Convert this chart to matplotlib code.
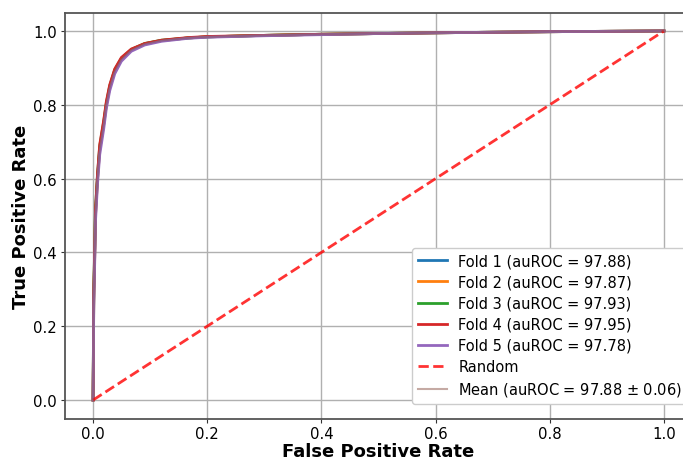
import numpy as np
import matplotlib
matplotlib.use("Agg")
import matplotlib.pyplot as plt

fpr = [0.0, 0.0005, 0.0012, 0.003, 0.0042, 0.0078, 0.0117, 0.0187, 0.0233, 0.0292,
       0.038, 0.0496, 0.067, 0.0905, 0.12, 0.166, 0.2, 0.3, 0.4, 0.5, 0.6, 0.8, 1.0]
tpr_fold1 = [0.0, 0.093, 0.274, 0.400, 0.500, 0.600, 0.680, 0.748, 0.800, 0.847,
             0.892, 0.924, 0.949, 0.965, 0.974, 0.981, 0.984, 0.988, 0.991, 0.993, 0.995, 0.998, 1.0]
tpr_fold2 = [0.0, 0.090, 0.268, 0.395, 0.497, 0.598, 0.678, 0.746, 0.799, 0.846,
             0.891, 0.923, 0.949, 0.965, 0.974, 0.981, 0.984, 0.988, 0.991, 0.993, 0.995, 0.998, 1.0]
tpr_fold3 = [0.0, 0.110, 0.300, 0.420, 0.515, 0.610, 0.688, 0.754, 0.805, 0.851,
             0.895, 0.926, 0.950, 0.966, 0.975, 0.981, 0.984, 0.988, 0.991, 0.993, 0.995, 0.998, 1.0]
tpr_fold4 = [0.0, 0.100, 0.290, 0.415, 0.512, 0.612, 0.692, 0.758, 0.809, 0.854,
             0.897, 0.928, 0.951, 0.966, 0.975, 0.982, 0.985, 0.988, 0.991, 0.993, 0.995, 0.998, 1.0]
tpr_fold5 = [0.0, 0.080, 0.255, 0.380, 0.482, 0.585, 0.665, 0.735, 0.790, 0.838,
             0.884, 0.918, 0.945, 0.962, 0.972, 0.980, 0.983, 0.987, 0.990, 0.993, 0.995, 0.998, 1.0]
fold_tprs = [tpr_fold1, tpr_fold2, tpr_fold3, tpr_fold4, tpr_fold5]
fold_auc = [97.88, 97.87, 97.93, 97.95, 97.78]
fold_colors = ["#1f77b4", "#ff7f0e", "#2ca02c", "#d62728", "#9467bd"]
mean_auc = 97.88
std_auc = 0.06

fig = plt.figure(figsize=(6.83, 4.6), dpi=100)
W, H = 683, 460
ax = fig.add_axes([64.5 / W, 1 - 419.5 / H, 628 / W, 406 / H])

for i, (t, c) in enumerate(zip(fold_tprs, fold_colors)):
    ax.plot(fpr, t, color=c, lw=2, label=f"Fold {i+1} (auROC = {fold_auc[i]:.2f})")
ax.plot([0, 1], [0, 1], "--", color="red", alpha=0.8, lw=2, label="Random")
mean_tpr = np.mean(np.array(fold_tprs), axis=0)
ax.plot(fpr, mean_tpr, color="#8c564b", alpha=0.5, lw=1.5,
        label=f"Mean (auROC = {mean_auc:.2f} $\\pm$ {std_auc:.2f})")

ax.set_xlim(-0.05, 1.05)
ax.set_ylim(-0.05, 1.05)
ax.grid(True, color="#b0b0b0", lw=1)
for s in ax.spines.values():
    s.set_color("#555555")
    s.set_linewidth(1.3)
ax.tick_params(labelsize=10.7, color="#333333", length=3, pad=2.5)
ax.set_xlabel("False Positive Rate", fontsize=13, fontweight="bold")
ax.set_ylabel("True Positive Rate", fontsize=13, fontweight="bold")
ax.xaxis.set_label_coords(0.5, -0.079)
ax.xaxis.label.set_verticalalignment("center")
ax.yaxis.set_label_coords(-0.0685, 0.5)
ax.yaxis.label.set_verticalalignment("center")
ax.legend(loc="lower right", bbox_to_anchor=(0.993, 0.0357), borderaxespad=0,
          fontsize=10.5, labelspacing=0.42, framealpha=1)

fig.savefig("out.png", dpi=100)
